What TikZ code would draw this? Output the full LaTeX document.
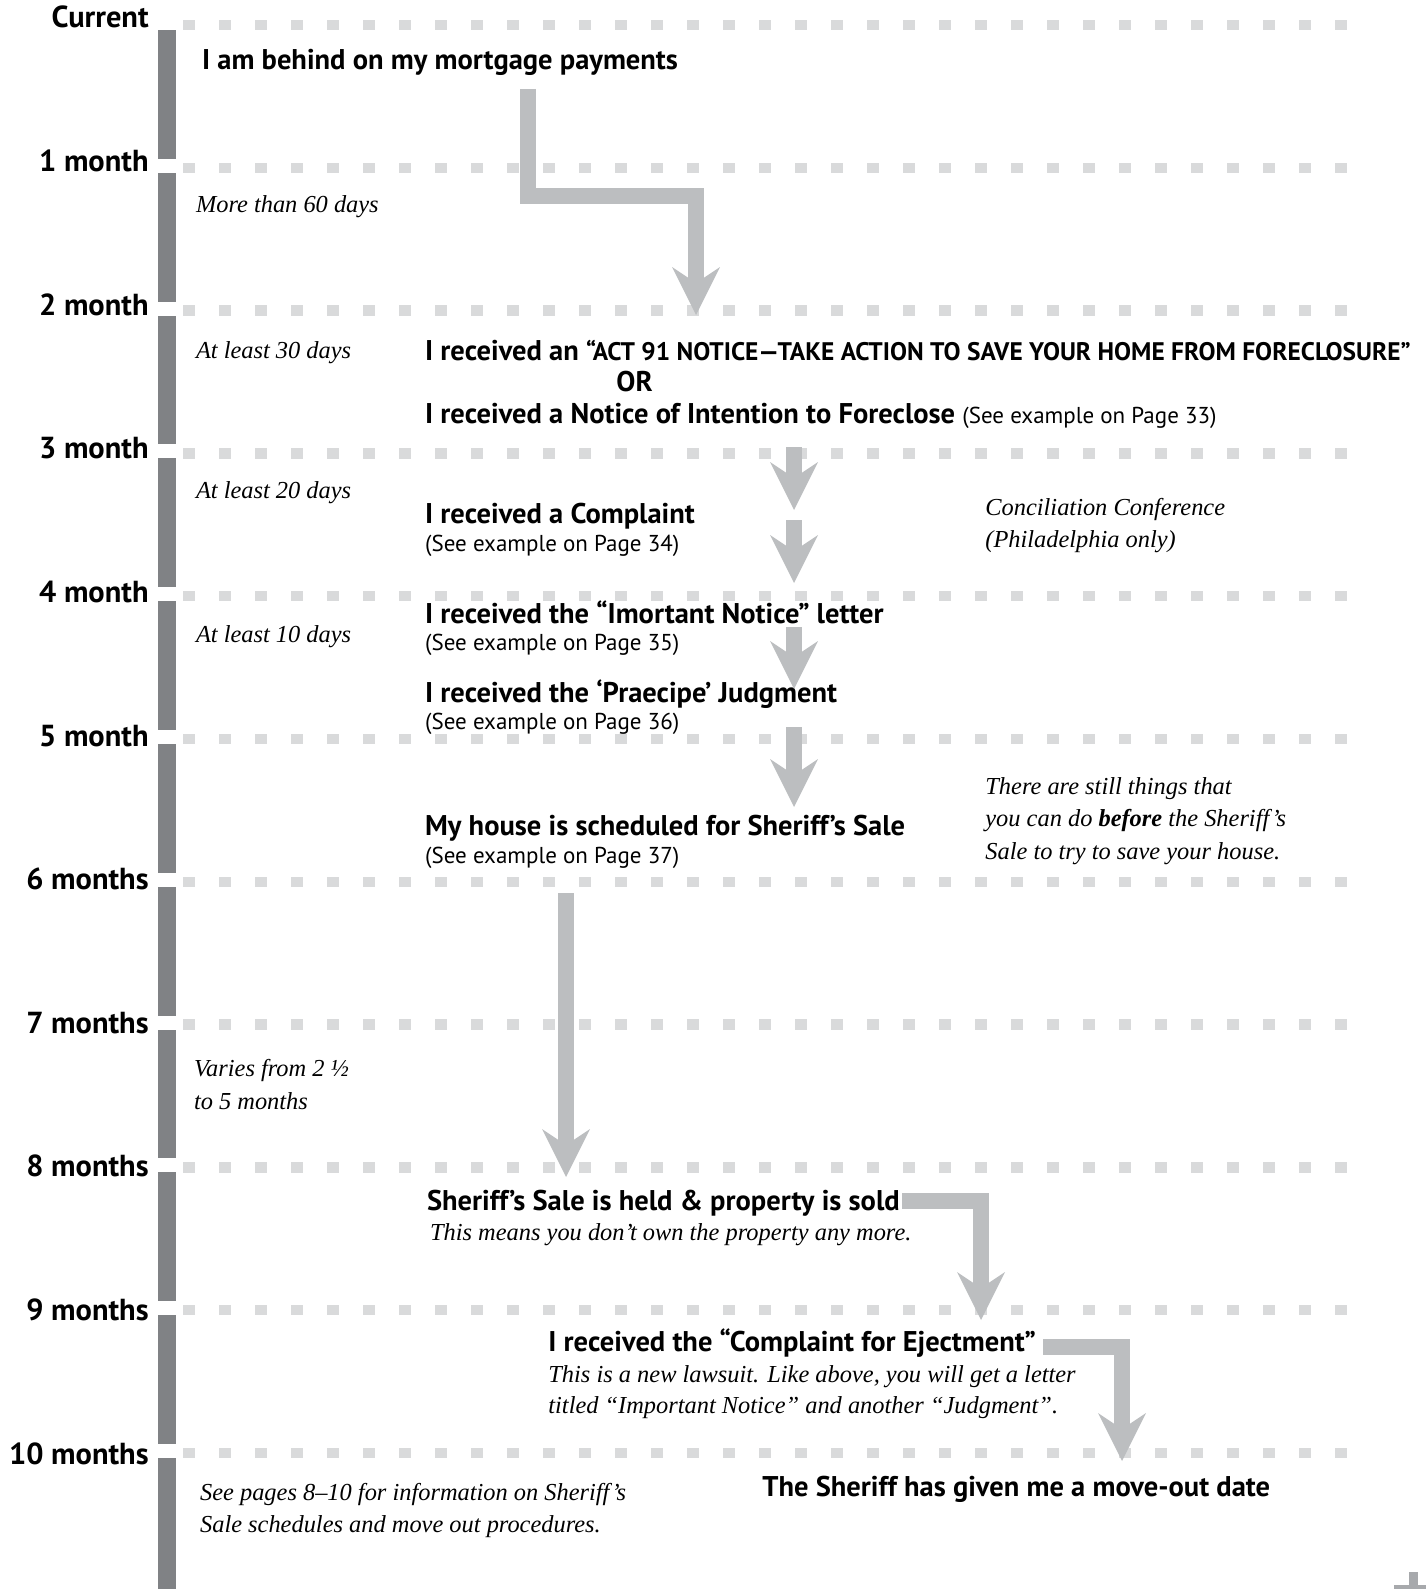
\documentclass[tikz,border=0pt]{standalone}
\usepackage{fontspec}
\setmainfont{PT Sans}
\newfontfamily\notefont{Liberation Serif}
\usetikzlibrary{arrows.meta}
\definecolor{bargray}{HTML}{808285}
\definecolor{dashgray}{HTML}{D9DADB}
\definecolor{flowgray}{HTML}{BCBEC0}
\definecolor{crossgray}{HTML}{A7A9AC}

\begin{document}
\begin{tikzpicture}[x=0.5pt, y=-0.5pt]
        % ================= styles =================
        \tikzset{
            % month labels on the left
            monthlbl/.style={anchor=base east, inner sep=0pt, font=\fontsize{15.2}{18}\selectfont\bfseries},
            % events (bold) and page hints
            evt/.style={anchor=base west, inner sep=0pt, font=\fontsize{14.25}{17}\selectfont\bfseries},
            seepg/.style={anchor=base west, inner sep=0pt, font=\fontsize{11.5}{14}\selectfont},
            % italic side notes
            note/.style={anchor=base west, inner sep=0pt, font=\notefont\itshape\fontsize{12.2}{14}\selectfont},
            % dotted month rows
            monthrow/.style={dashgray, line width=5.25pt, dash pattern=on 6pt off 12pt},
            % big grey arrows
            flow/.style={flowgray, line width=8pt, -{Stealth[length=24pt, width=24pt, inset=8pt, line width=0pt]}}
        }

        \useasboundingbox (0,0) rectangle (1426,1589);

        % ================= 1. timeline: rows, labels, bar =================
        \foreach \k/\lbl in {0/Current, 1/1 month, 2/2 month, 3/3 month, 4/4 month, 5/5 month,
                             6/6 months, 7/7 months, 8/8 months, 9/9 months, 10/10 months} {
            \pgfmathsetmacro{\yy}{25+142.8*\k}
            \draw[monthrow] (183,\yy) -- (1351,\yy);
            \node[monthlbl] (m\k) at (149,{28+143.6*\k}) {\lbl};
        }
        \foreach \k in {0,...,9}
            \fill[bargray] (158,{25+142.8*\k+5}) rectangle (176,{25+142.8*(\k+1)-9});
        \fill[bargray] (158,{25+142.8*10+5}) rectangle (176,1589);

        % ================= 2. notes in the left column =================
        \node[note] (gap1) at (195.6,213) {More than 60 days};
        \node[note] (gap2) at (195.6,358) {At least 30 days};
        \node[note] (gap3) at (195.6,498) {At least 20 days};
        \node[note] (gap4) at (195.6,642) {At least 10 days};
        \node[note] (gap7a) at (193.6,1076) {Varies from 2 ½};
        \node[note] (gap7b) at (193.6,1109) {to 5 months};
        \node[note] (gap10a) at (199.7,1500) {See pages 8–10 for information on Sheriff’s};
        \node[note] (gap10b) at (199.7,1532) {Sale schedules and move out procedures.};

        % ================= 3. events =================
        \node[evt] (behind) at (201.7,70) {I am behind on my mortgage payments};
        \node[evt] (act91) at (424.7,360) {I received an {\fontsize{12.7}{15}\selectfont “ACT 91 NOTICE—TAKE ACTION TO SAVE YOUR HOME FROM FORECLOSURE”}};
        \node[evt] (orword) at (616,391) {OR};
        \node[evt] (intent) at (424.7,423) {I received a Notice of Intention to Foreclose {\fontsize{11.5}{14}\selectfont\mdseries(See example on Page 33)}};

        \node[evt] (complaint) at (424.7,523) {I received a Complaint};
        \node[seepg] (complaintpg) at (424.7,551) {(See example on Page 34)};
        \node[note] (concila) at (985,515) {Conciliation Conference};
        \node[note] (concilb) at (985,547) {(Philadelphia only)};

        \node[evt] (notice) at (424.7,623) {I received the “Imortant Notice” letter};
        \node[seepg] (noticepg) at (424.7,650) {(See example on Page 35)};
        \node[evt] (praecipe) at (424.7,702) {I received the ‘Praecipe’ Judgment};
        \node[seepg] (praecipepg) at (424.7,729) {(See example on Page 36)};

        \node[evt] (sched) at (424.7,835) {My house is scheduled for Sheriff’s Sale};
        \node[seepg] (schedpg) at (424.7,863) {(See example on Page 37)};
        \node[note] (stilla) at (985,794) {There are still things that};
        \node[note] (stillb) at (985,826) {you can do \textbf{before} the Sheriff’s};
        \node[note] (stillc) at (985,859) {Sale to try to save your house.};

        \node[evt] (sold) at (426.7,1210) {Sheriff’s Sale is held \& property is sold};
        \node[note] (soldnote) at (429.7,1240) {This means you don’t own the property any more.};

        \node[evt] (eject) at (548,1351) {I received the “Complaint for Ejectment”};
        \node[note] (ejecta) at (548,1382) {This is a new lawsuit. Like above, you will get a letter};
        \node[note] (ejectb) at (548,1413) {titled “Important Notice” and another “Judgment”.};

        \node[evt] (moveout) at (762,1496) {The Sheriff has given me a move-out date};

        % ================= 4. arrows =================
        \coordinate (a1s) at (528,89);   \coordinate (a1t) at (696,315);
        \coordinate (a2s) at (794,447);  \coordinate (a2t) at (794,510);
        \coordinate (a3s) at (794,520);  \coordinate (a3t) at (794,583);
        \coordinate (a4s) at (794,627);  \coordinate (a4t) at (794,689);
        \coordinate (a5s) at (794,727);  \coordinate (a5t) at (794,807);
        \coordinate (a6s) at (566,893);  \coordinate (a6t) at (566,1177);
        \coordinate (a7s) at (902,1201); \coordinate (a7t) at (981,1320);
        \coordinate (a8s) at (1043,1347); \coordinate (a8t) at (1122,1461);

        \draw[flow] (a1s) -- ++(0,107) -| (a1t);
        \foreach \a in {2,3,4,5,6} \draw[flow] (a\a s) -- (a\a t);
        \draw[flow] (a7s) -| (a7t);
        \draw[flow] (a8s) -| (a8t);

        % corner mark, bottom right
        \fill[crossgray] (1409,1572) rectangle (1418,1589);
        \fill[crossgray] (1394,1585) rectangle (1426,1589);
\end{tikzpicture}
\end{document}
